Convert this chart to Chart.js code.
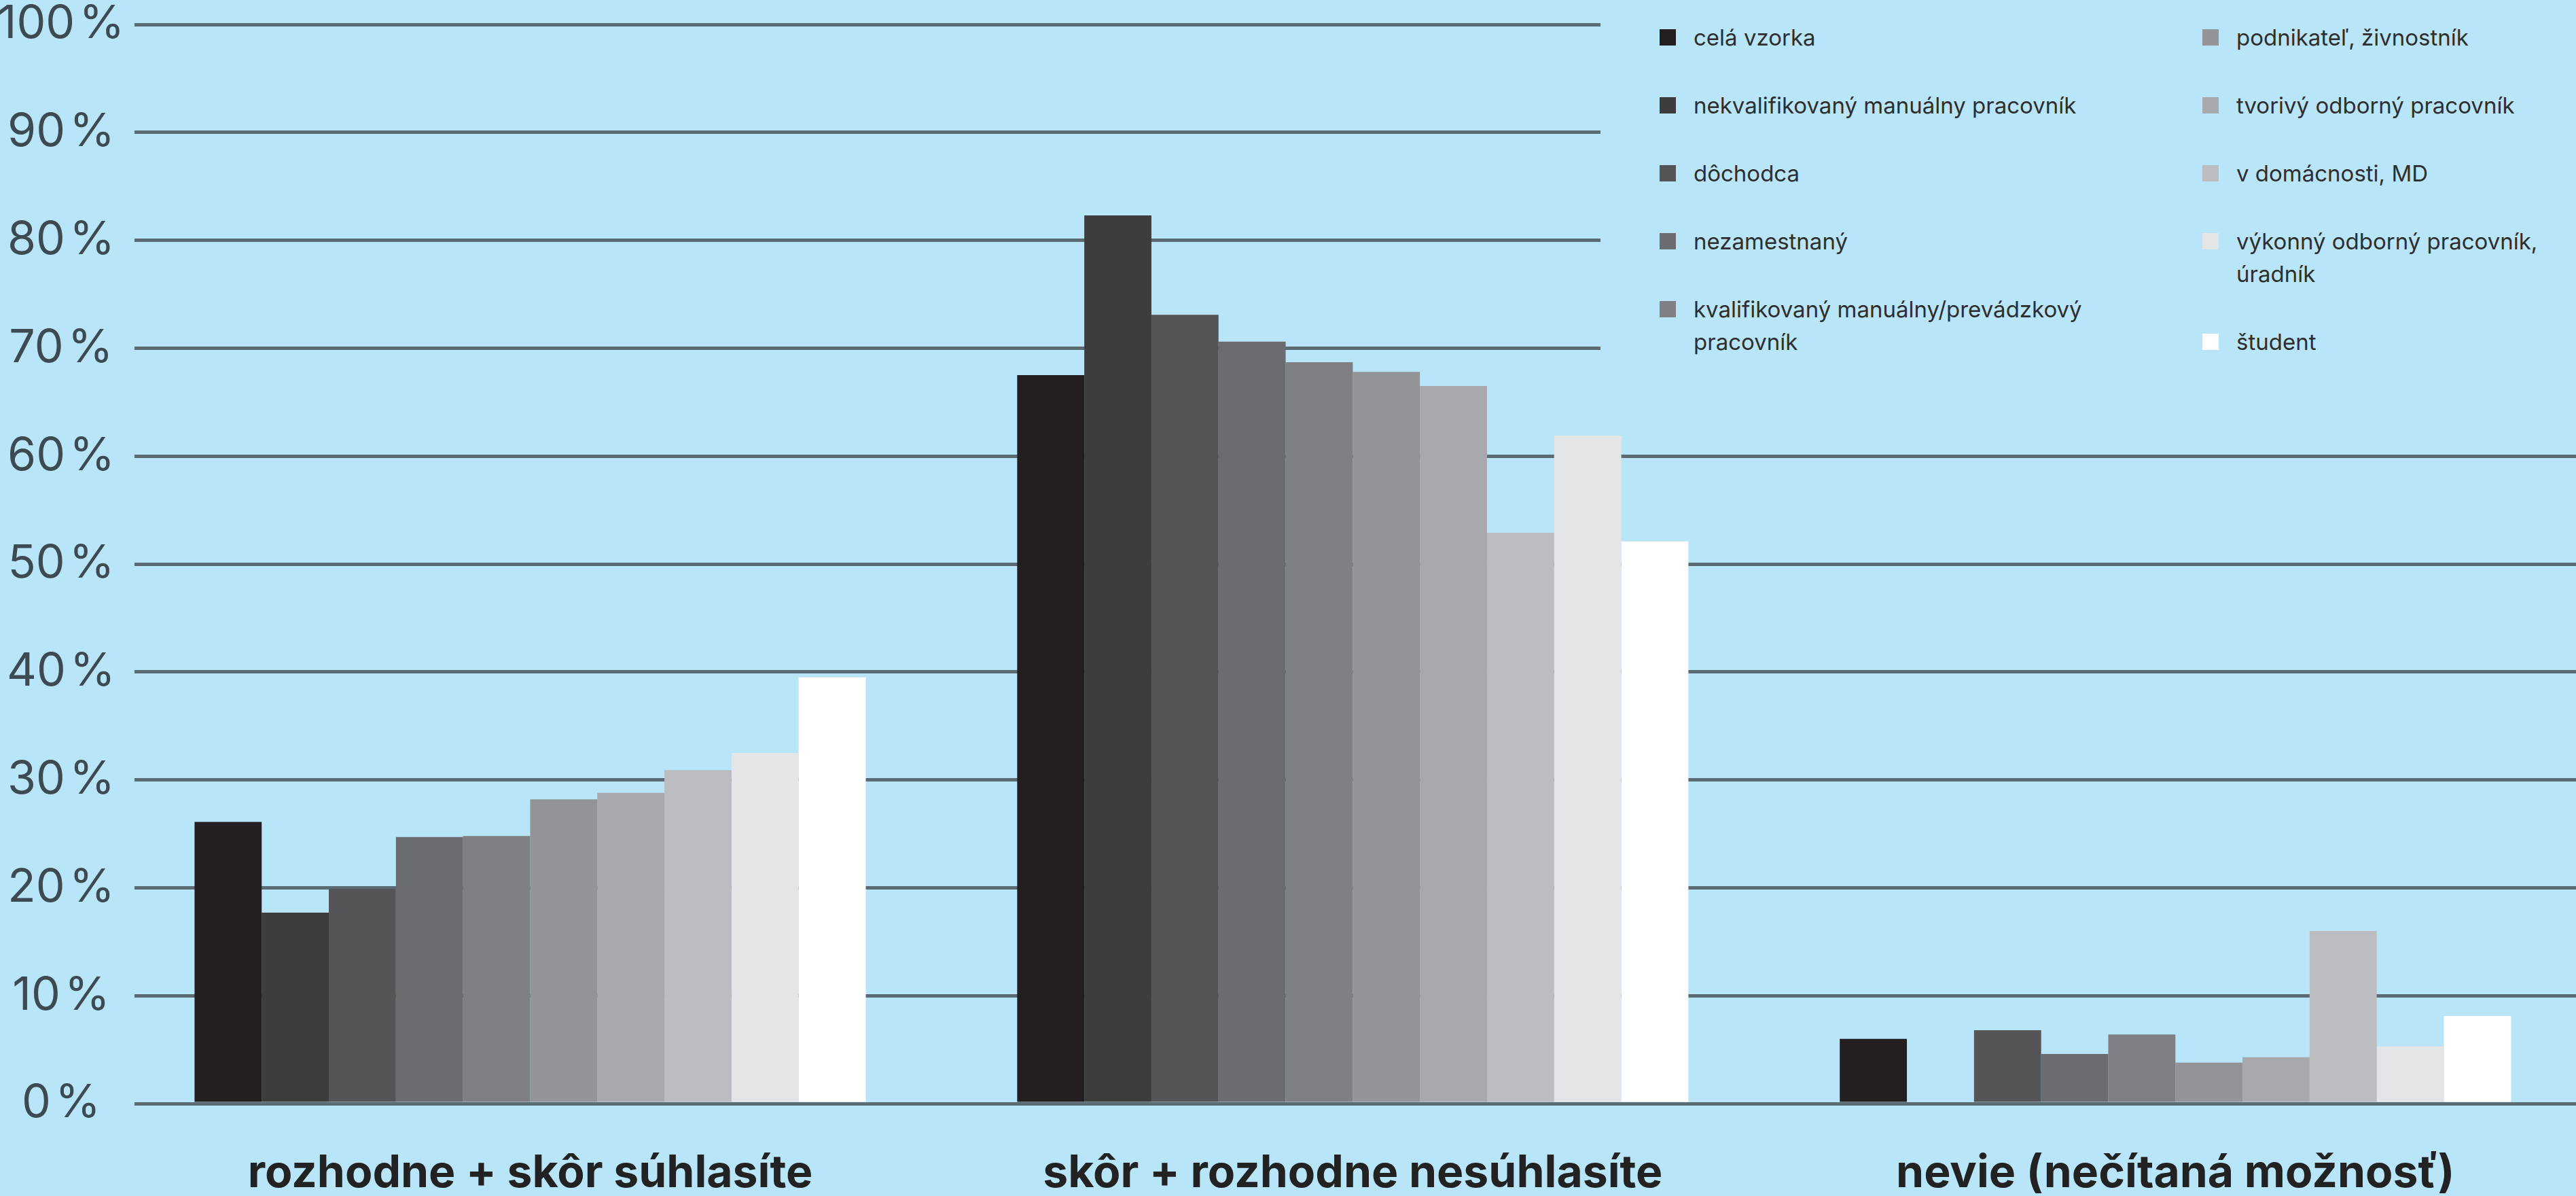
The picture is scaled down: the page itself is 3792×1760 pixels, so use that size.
<!DOCTYPE html>
<html>
<head>
<meta charset="utf-8">
<script src="https://cdn.jsdelivr.net/npm/chart.js@4/dist/chart.umd.min.js"></script>
<style>
  html, body { margin: 0; padding: 0; background: #b9e5f8; }
  #wrap { position: relative; width: 3792px; height: 1760px; }
  #legend {
    position: absolute; left: 2356px; top: 0; width: 1436px; height: 590px;
    background: #b9e5f8;
    font-family: Inter, 'Open Sans', sans-serif; font-size: 33px; color: #2e2e2e;
  }
  .col { position: absolute; top: 31px; }
  .item { position: relative; padding-left: 50px; line-height: 48px; margin-bottom: 52px; white-space: pre-line; }
  .sw { position: absolute; left: 0; top: 12px; width: 24px; height: 24px; }
</style>
</head>
<body>
<div id="wrap">
  <canvas id="chart"></canvas>
  <div id="legend"></div>
</div>
<script>
const categories = ['rozhodne + skôr súhlasíte', 'skôr + rozhodne nesúhlasíte', 'nevie (nečítaná možnosť)'];

const seriesNames = [
  'celá vzorka',
  'nekvalifikovaný manuálny pracovník',
  'dôchodca',
  'nezamestnaný',
  'kvalifikovaný manuálny/prevádzkový\npracovník',
  'podnikateľ, živnostník',
  'tvorivý odborný pracovník',
  'v domácnosti, MD',
  'výkonný odborný pracovník,\núradník',
  'študent'
];

const seriesColors = ['#231f20', '#3d3d3e', '#555557', '#6b6c70', '#808084', '#939498', '#a8a9ad', '#bcbdc1', '#e4e5e7', '#ffffff'];

// values per category, one per series (in %)
const agree    = [26.1, 17.7, 19.9, 24.7, 24.8, 28.2, 28.8, 30.9, 32.5, 39.5];
const disagree = [67.5, 82.3, 73.1, 70.6, 68.7, 67.8, 66.5, 52.9, 61.9, 52.1];
const dontKnow = [6.0, null, 6.8, 4.6, 6.4, 3.8, 4.3, 16.0, 5.3, 8.1];

const yTicks = [0, 10, 20, 30, 40, 50, 60, 70, 80, 90, 100];

const FONT = 'Inter, "Open Sans", sans-serif';
const yFont = { family: FONT, size: 68, lineHeight: 1 };
const yLabel = v => v + '\u200A%';

// centre the y labels around x = 90
const mctx = document.createElement('canvas').getContext('2d');
mctx.font = `${yFont.size}px ${FONT}`;
const widest = Math.max(...yTicks.map(v => mctx.measureText(yLabel(v)).width));
const yPad = Math.max(0, 198 - 90 - widest / 2);

const groups = [agree, disagree, dontKnow];
const datasets = seriesNames.map((name, i) => ({
  label: name,
  data: groups.map((g, c) => ({ x: c, y: g[i] })),
  backgroundColor: seriesColors[i],
  borderWidth: 0,
  categoryPercentage: 0.816,
  barPercentage: 1.0
}));

new Chart(document.getElementById('chart'), {
  type: 'bar',
  data: { datasets },
  options: {
    responsive: true,
    maintainAspectRatio: false,
    animation: false,
    layout: { padding: 0 },
    plugins: { legend: { display: false }, tooltip: { enabled: false } },
    scales: {
      x: {
        type: 'linear',
        offset: false,
        min: -0.481,
        max: 2.487,
        grid: { display: false, drawTicks: false },
        border: { display: false },
        afterBuildTicks: s => { s.ticks = categories.map((c, i) => ({ value: i })); },
        afterFit: s => { s.height = 136; },
        ticks: {
          autoSkip: false, maxRotation: 0, padding: 64,
          color: '#222',
          font: { family: FONT, size: 66, weight: 'bold', lineHeight: 1.2 },
          callback: v => categories[v]
        }
      },
      y: {
        min: 0, max: 100,
        afterBuildTicks: s => { s.ticks = yTicks.map(v => ({ value: v })); },
        afterFit: s => { s.width = 198; s.paddingTop = 36; s.paddingBottom = 0; },
        grid: { color: '#5b6b74', lineWidth: 5, drawTicks: false },
        border: { display: false },
        ticks: {
          crossAlign: 'center', padding: yPad,
          color: '#3d4a52',
          font: yFont,
          callback: yLabel
        }
      }
    }
  }
});

// legend: two columns of five
const legend = document.getElementById('legend');
[[0, 5, 87], [5, 10, 886]].forEach(([from, to, left]) => {
  const col = document.createElement('div');
  col.className = 'col';
  col.style.left = left + 'px';
  for (let i = from; i < to; i++) {
    const item = document.createElement('div');
    item.className = 'item';
    const sw = document.createElement('span');
    sw.className = 'sw';
    sw.style.background = seriesColors[i];
    item.appendChild(sw);
    item.appendChild(document.createTextNode(seriesNames[i]));
    col.appendChild(item);
  }
  legend.appendChild(col);
});
</script>
</body>
</html>
